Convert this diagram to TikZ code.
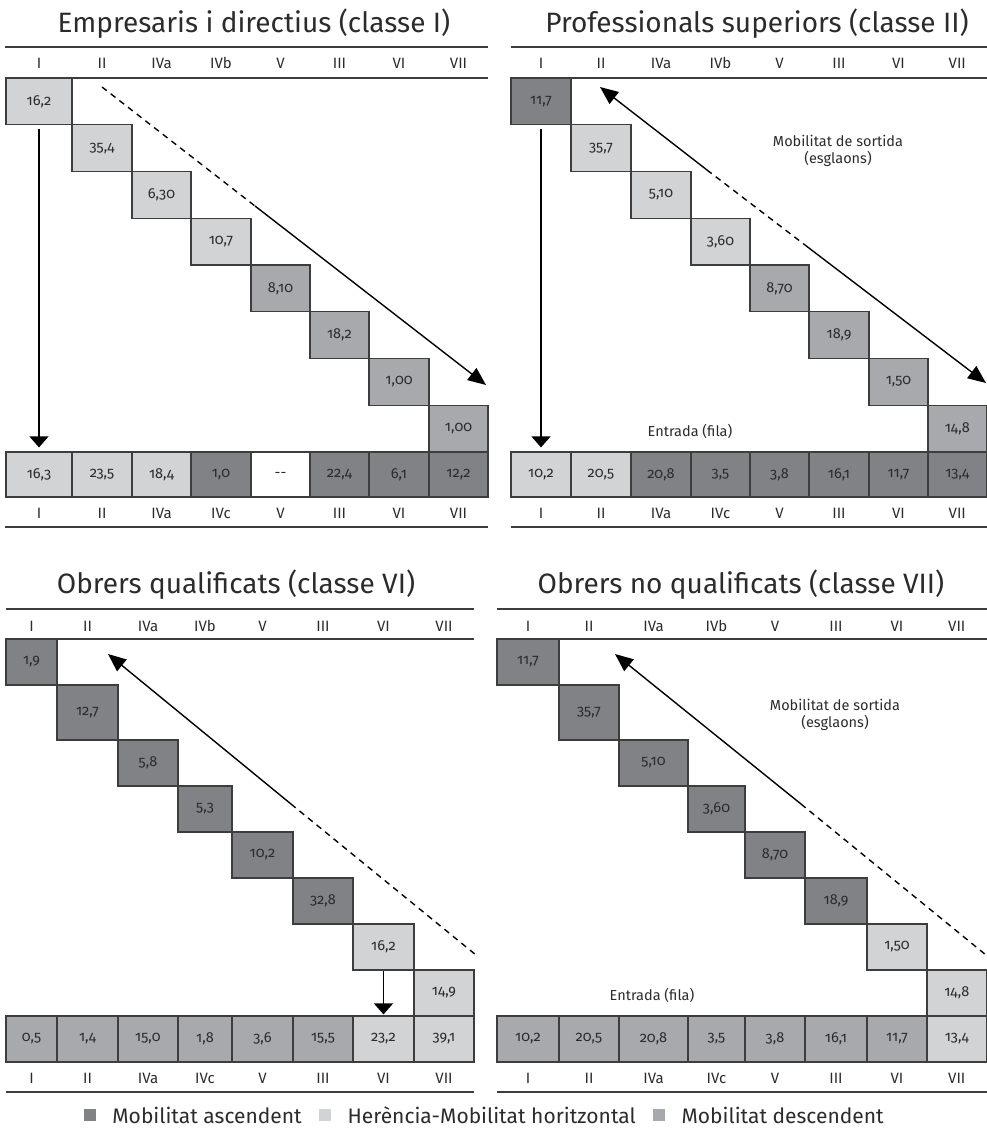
\documentclass[tikz,border=0pt]{standalone}
\usepackage{fontspec}
\setmainfont{Fira Sans}[Numbers=OldStyle]
\usetikzlibrary{arrows.meta,positioning}
\definecolor{cDark}{HTML}{808285}
\definecolor{cMid}{HTML}{A7A9AC}
\definecolor{cLight}{HTML}{D1D3D4}
\definecolor{cLine}{HTML}{3D3D3D}
\definecolor{cText}{HTML}{2B2B2B}
\begin{document}
\begin{tikzpicture}[x=1pt,y=-1pt,
    cell/.style={draw=cLine,line width=1.2pt,inner sep=0pt,minimum height=46.75pt,text=cText,font=\fontsize{14.5}{16}\selectfont},
    botcell/.style={cell,minimum height=45pt},
    bcell/.style={cell,minimum height=46pt},
    dk/.style={fill=cDark},md/.style={fill=cMid},lt/.style={fill=cLight},wh/.style={fill=white},
    colhead/.style={anchor=base,inner sep=0pt,text=cText,font=\fontsize{15}{17}\selectfont},
    panel/.style={anchor=base,inner sep=0pt,text=cText,font=\fontsize{28}{32}\selectfont},
    note/.style={inner sep=0pt,align=center,text=cText,font=\fontsize{14.5}{17}\selectfont},
    rule/.style={draw=cLine,line width=1.3pt},
    varr/.style={line width=1.4pt,-{Triangle[length=11pt,width=19pt]}},
    darr/.style={line width=1.4pt,-{Triangle[length=18pt,width=15pt]}},
    dashline/.style={line width=1.4pt,dash pattern=on 6pt off 5pt},
    lgsq/.style={minimum size=12pt,inner sep=0pt},
    lgtext/.style={inner sep=0pt,text=cText,font=\fontsize{21}{24}\selectfont}]
    \useasboundingbox (0,0) rectangle (987,1132);

    % Empresaris i directius
    \node[panel] (tlt) at (254,33) {Empresaris i directius (classe I)};
    \draw[rule] (5,47)--(488,47);
    \draw[rule] (5,78)--(488,78);
    \node[colhead] (tlh1) at (39,69) {I};
    \node[colhead] (tlh2) at (102,69) {II};
    \node[colhead] (tlh3) at (161.5,69) {IVa};
    \node[colhead] (tlh4) at (221,69) {IVb};
    \node[colhead] (tlh5) at (280.5,69) {V};
    \node[colhead] (tlh6) at (339.5,69) {III};
    \node[colhead] (tlh7) at (399,69) {VI};
    \node[colhead] (tlh8) at (458.5,69) {VII};
    \node[cell,lt,minimum width=66pt] (tl1) at (39,101.4) {16,2};
    \node[cell,lt,minimum width=60pt] (tl2) at (102,148.1) {35,4};
    \node[cell,lt,minimum width=59pt] (tl3) at (161.5,194.9) {6,30};
    \node[cell,lt,minimum width=60pt] (tl4) at (221,241.6) {10,7};
    \node[cell,md,minimum width=59pt] (tl5) at (280.5,288.4) {8,10};
    \node[cell,md,minimum width=59pt] (tl6) at (339.5,335.1) {18,2};
    \node[cell,md,minimum width=60pt] (tl7) at (399,381.9) {1,00};
    \node[cell,md,minimum width=59pt] (tl8) at (458.5,428.6) {1,00};
    \node[botcell,lt,minimum width=66pt] (tlb1) at (39,474.5) {16,3};
    \node[botcell,lt,minimum width=60pt] (tlb2) at (102,474.5) {23,5};
    \node[botcell,lt,minimum width=59pt] (tlb3) at (161.5,474.5) {18,4};
    \node[botcell,dk,minimum width=60pt] (tlb4) at (221,474.5) {1,0};
    \node[botcell,wh,minimum width=59pt] (tlb5) at (280.5,474.5) {-{}-};
    \node[botcell,dk,minimum width=59pt] (tlb6) at (339.5,474.5) {22,4};
    \node[botcell,dk,minimum width=60pt] (tlb7) at (399,474.5) {6,1};
    \node[botcell,dk,minimum width=59pt] (tlb8) at (458.5,474.5) {12,2};
    \node[colhead] (tlf1) at (39,518) {I};
    \node[colhead] (tlf2) at (102,518) {II};
    \node[colhead] (tlf3) at (161.5,518) {IVa};
    \node[colhead] (tlf4) at (221,518) {IVc};
    \node[colhead] (tlf5) at (280.5,518) {V};
    \node[colhead] (tlf6) at (339.5,518) {III};
    \node[colhead] (tlf7) at (399,518) {VI};
    \node[colhead] (tlf8) at (458.5,518) {VII};
    \draw[rule] (5,527)--(488,527);
    \draw[varr,shorten <=4pt,shorten >=4pt] (tl1.south)--(tlb1.north);
    \coordinate (tls) at (102,87);
    \coordinate (tlm) at (255,206);
    \coordinate (tle) at (486,385);
    \draw[dashline] (tls)--(tlm);
    \draw[darr] (tlm)--(tle);

    % Professionals superiors
    \node[panel] (trt) at (757,33) {Professionals superiors (classe II)};
    \draw[rule] (511,47)--(987,47);
    \draw[rule] (511,78)--(987,78);
    \node[colhead] (trh1) at (541,69) {I};
    \node[colhead] (trh2) at (601,69) {II};
    \node[colhead] (trh3) at (661,69) {IVa};
    \node[colhead] (trh4) at (720.5,69) {IVb};
    \node[colhead] (trh5) at (779.5,69) {V};
    \node[colhead] (trh6) at (839,69) {III};
    \node[colhead] (trh7) at (898.5,69) {VI};
    \node[colhead] (trh8) at (957.25,69) {VII};
    \node[cell,dk,minimum width=60pt] (tr1) at (541,101.4) {11,7};
    \node[cell,lt,minimum width=60pt] (tr2) at (601,148.1) {35,7};
    \node[cell,lt,minimum width=60pt] (tr3) at (661,194.9) {5,10};
    \node[cell,lt,minimum width=59pt] (tr4) at (720.5,241.6) {3,60};
    \node[cell,md,minimum width=59pt] (tr5) at (779.5,288.4) {8,70};
    \node[cell,md,minimum width=60pt] (tr6) at (839,335.1) {18,9};
    \node[cell,md,minimum width=59pt] (tr7) at (898.5,381.9) {1,50};
    \node[cell,md,minimum width=58.5pt] (tr8) at (957.25,428.6) {14,8};
    \node[botcell,lt,minimum width=60pt] (trb1) at (541,474.5) {10,2};
    \node[botcell,lt,minimum width=60pt] (trb2) at (601,474.5) {20,5};
    \node[botcell,dk,minimum width=60pt] (trb3) at (661,474.5) {20,8};
    \node[botcell,dk,minimum width=59pt] (trb4) at (720.5,474.5) {3,5};
    \node[botcell,dk,minimum width=59pt] (trb5) at (779.5,474.5) {3,8};
    \node[botcell,dk,minimum width=60pt] (trb6) at (839,474.5) {16,1};
    \node[botcell,dk,minimum width=59pt] (trb7) at (898.5,474.5) {11,7};
    \node[botcell,dk,minimum width=58.5pt] (trb8) at (957.25,474.5) {13,4};
    \node[colhead] (trf1) at (541,518) {I};
    \node[colhead] (trf2) at (601,518) {II};
    \node[colhead] (trf3) at (661,518) {IVa};
    \node[colhead] (trf4) at (720.5,518) {IVc};
    \node[colhead] (trf5) at (779.5,518) {V};
    \node[colhead] (trf6) at (839,518) {III};
    \node[colhead] (trf7) at (898.5,518) {VI};
    \node[colhead] (trf8) at (957.25,518) {VII};
    \draw[rule] (511,527)--(987,527);
    \draw[varr,shorten <=4pt,shorten >=4pt] (tr1.south)--(trb1.north);
    \coordinate (trs) at (600,87);
    \coordinate (trm) at (707,170);
    \coordinate (trn) at (805,245);
    \coordinate (tre) at (986,383);
    \draw[darr] (trm)--(trs);
    \draw[dashline] (trm)--(trn);
    \draw[darr] (trn)--(tre);
    \node[note] (trout) at (838,151) {Mobilitat de sortida\\(esglaons)};
    \node[note] (trin) at (690,431) {Entrada (fila)};

    % Obrers qualificats
    \node[panel] (blt) at (236,593) {Obrers qualificats (classe VI)};
    \draw[rule] (6,609)--(474,609);
    \draw[rule] (6,639)--(474,639);
    \node[colhead] (blh1) at (31.5,631) {I};
    \node[colhead] (blh2) at (87.5,631) {II};
    \node[colhead] (blh3) at (148,631) {IVa};
    \node[colhead] (blh4) at (205,631) {IVb};
    \node[colhead] (blh5) at (262.5,631) {V};
    \node[colhead] (blh6) at (323,631) {III};
    \node[colhead] (blh7) at (383.5,631) {VI};
    \node[colhead] (blh8) at (444,631) {VII};
    \node[bcell,dk,minimum width=51pt] (bl1) at (31.5,662) {1,9};
    \node[bcell,dk,minimum width=61pt,minimum height=55pt] (bl2) at (87.5,712.5) {12,7};
    \node[bcell,dk,minimum width=60pt] (bl3) at (148,763) {5,8};
    \node[bcell,dk,minimum width=54pt] (bl4) at (205,809) {5,3};
    \node[bcell,dk,minimum width=61pt] (bl5) at (262.5,855) {10,2};
    \node[bcell,dk,minimum width=60pt] (bl6) at (323,901) {32,8};
    \node[bcell,lt,minimum width=61pt] (bl7) at (383.5,947) {16,2};
    \node[bcell,lt,minimum width=60pt] (bl8) at (444,993) {14,9};
    \node[bcell,md,minimum width=51pt] (blb1) at (31.5,1039) {0,5};
    \node[bcell,md,minimum width=61pt] (blb2) at (87.5,1039) {1,4};
    \node[bcell,md,minimum width=60pt] (blb3) at (148,1039) {15,0};
    \node[bcell,md,minimum width=54pt] (blb4) at (205,1039) {1,8};
    \node[bcell,md,minimum width=61pt] (blb5) at (262.5,1039) {3,6};
    \node[bcell,md,minimum width=60pt] (blb6) at (323,1039) {15,5};
    \node[bcell,lt,minimum width=61pt] (blb7) at (383.5,1039) {23,2};
    \node[bcell,lt,minimum width=60pt] (blb8) at (444,1039) {39,1};
    \node[colhead] (blf1) at (31.5,1083) {I};
    \node[colhead] (blf2) at (87.5,1083) {II};
    \node[colhead] (blf3) at (148,1083) {IVa};
    \node[colhead] (blf4) at (205,1083) {IVc};
    \node[colhead] (blf5) at (262.5,1083) {V};
    \node[colhead] (blf6) at (323,1083) {III};
    \node[colhead] (blf7) at (383.5,1083) {VI};
    \node[colhead] (blf8) at (444,1083) {VII};
    \draw[rule] (6,1092)--(474,1092);
    \draw[varr,shorten >=1pt] (bl7.south)--(blb7.north);
    \coordinate (bls) at (108,654);
    \coordinate (blm) at (291,804);
    \coordinate (ble) at (476,955);
    \draw[darr] (blm)--(bls);
    \draw[dashline] (blm)--(ble);

    % Obrers no qualificats
    \node[panel] (brt) at (741,593) {Obrers no qualificats (classe VII)};
    \draw[rule] (497,609)--(987,609);
    \draw[rule] (497,639)--(987,639);
    \node[colhead] (brh1) at (528,631) {I};
    \node[colhead] (brh2) at (589,631) {II};
    \node[colhead] (brh3) at (653.5,631) {IVa};
    \node[colhead] (brh4) at (716.5,631) {IVb};
    \node[colhead] (brh5) at (775,631) {V};
    \node[colhead] (brh6) at (836,631) {III};
    \node[colhead] (brh7) at (897,631) {VI};
    \node[colhead] (brh8) at (956.75,631) {VII};
    \node[bcell,dk,minimum width=62pt] (br1) at (528,662) {11,7};
    \node[bcell,dk,minimum width=60pt,minimum height=55pt] (br2) at (589,712.5) {35,7};
    \node[bcell,dk,minimum width=69pt] (br3) at (653.5,763) {5,10};
    \node[bcell,dk,minimum width=57pt] (br4) at (716.5,809) {3,60};
    \node[bcell,dk,minimum width=60pt] (br5) at (775,855) {8,70};
    \node[bcell,dk,minimum width=62pt] (br6) at (836,901) {18,9};
    \node[bcell,lt,minimum width=60pt] (br7) at (897,947) {1,50};
    \node[bcell,lt,minimum width=59.5pt] (br8) at (956.75,993) {14,8};
    \node[bcell,md,minimum width=62pt] (brb1) at (528,1039) {10,2};
    \node[bcell,md,minimum width=60pt] (brb2) at (589,1039) {20,5};
    \node[bcell,md,minimum width=69pt] (brb3) at (653.5,1039) {20,8};
    \node[bcell,md,minimum width=57pt] (brb4) at (716.5,1039) {3,5};
    \node[bcell,md,minimum width=60pt] (brb5) at (775,1039) {3,8};
    \node[bcell,md,minimum width=62pt] (brb6) at (836,1039) {16,1};
    \node[bcell,md,minimum width=60pt] (brb7) at (897,1039) {11,7};
    \node[bcell,lt,minimum width=59.5pt] (brb8) at (956.75,1039) {13,4};
    \node[colhead] (brf1) at (528,1083) {I};
    \node[colhead] (brf2) at (589,1083) {II};
    \node[colhead] (brf3) at (653.5,1083) {IVa};
    \node[colhead] (brf4) at (716.5,1083) {IVc};
    \node[colhead] (brf5) at (775,1083) {V};
    \node[colhead] (brf6) at (836,1083) {III};
    \node[colhead] (brf7) at (897,1083) {VI};
    \node[colhead] (brf8) at (956.75,1083) {VII};
    \draw[rule] (497,1092)--(987,1092);
    \coordinate (brs) at (615,654);
    \coordinate (brm) at (801,804);
    \coordinate (bre) at (986,955);
    \draw[darr] (brm)--(brs);
    \draw[dashline] (brm)--(bre);
    \node[note] (brout) at (835,715) {Mobilitat de sortida\\(esglaons)};
    \node[note] (brin) at (652,995) {Entrada (fila)};

    % llegenda
    \node[lgsq,fill=cDark] (lg1) at (90,1115) {};
    \node[lgtext,right=16pt of lg1] (lgt1) {Mobilitat ascendent};
    \node[lgsq,fill=cLight,right=17pt of lgt1] (lg2) {};
    \node[lgtext,right=16pt of lg2] (lgt2) {Herència-Mobilitat horitzontal};
    \node[lgsq,fill=cMid,right=17pt of lgt2] (lg3) {};
    \node[lgtext,right=16pt of lg3] (lgt3) {Mobilitat descendent};
\end{tikzpicture}
\end{document}
